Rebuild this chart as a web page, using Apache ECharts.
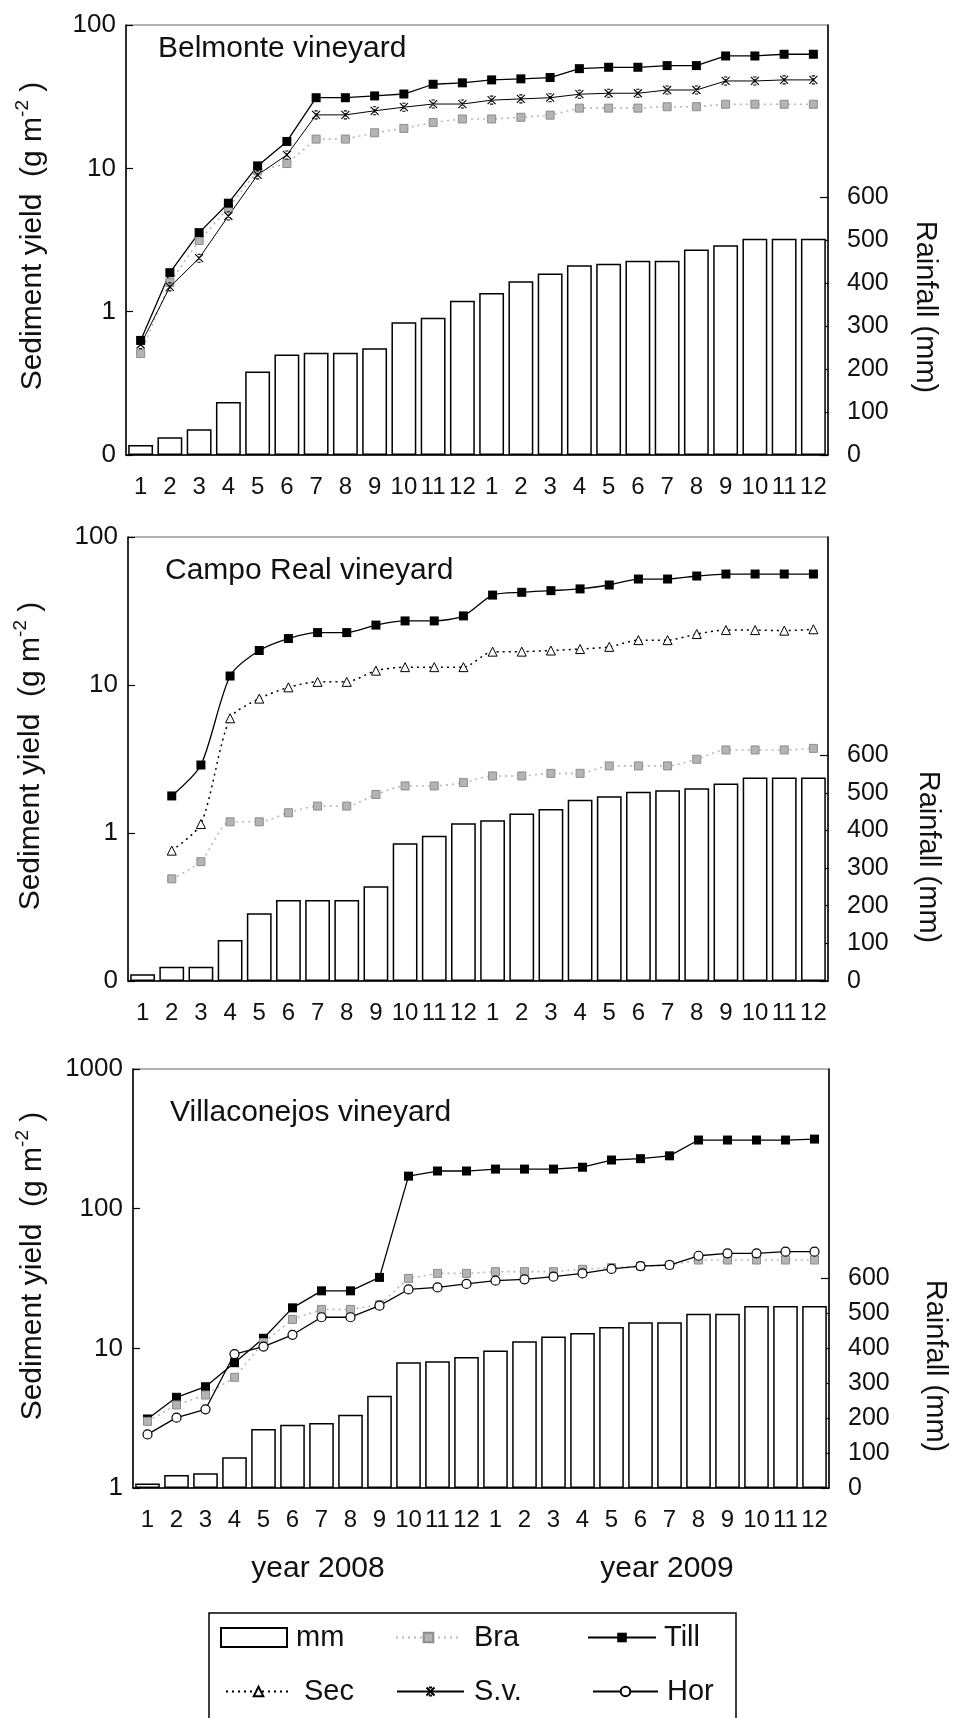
<!DOCTYPE html>
<html>
<head>
<meta charset="utf-8">
<script src="https://cdn.jsdelivr.net/npm/echarts@6.0.0/dist/echarts.min.js"></script>
<style>
html,body{margin:0;padding:0;background:#fff;}
#chart{width:954px;height:1718px;}
</style>
</head>
<body>
<div id="chart"></div>
<script>
// ---------- data ----------
const months = ['1','2','3','4','5','6','7','8','9','10','11','12'];
const years = ['2008','2009'];
const categories = [];
years.forEach(function (y) { months.forEach(function (m) { categories.push(m + '/' + y); }); });

const siteNames = ['Belmonte vineyard', 'Campo Real vineyard', 'Villaconejos vineyard'];

// Belmonte
const belmonteRain = [23,41,60,123,194,234,238,238,248,309,319,359,377,404,422,441,445,452,452,478,488,503,503,503];
const belmonteBra  = [0.51,1.6,3.13,5.3,9.6,10.8,16.0,16.0,17.7,19.0,20.9,22.1,22.1,22.7,23.5,26.3,26.3,26.3,26.9,26.9,28.0,28.0,28.0,28.0];
const belmonteSv   = [0.59,1.49,2.36,4.65,9.0,12.4,23.6,23.6,25.2,26.7,28.1,28.1,29.9,30.5,31.1,32.9,33.4,33.4,35.2,35.2,40.7,40.7,41.4,41.4];
const belmonteTill = [0.63,1.87,3.56,5.71,10.4,15.4,31.1,31.1,32.0,33.0,38.6,39.5,41.4,42.1,43.0,49.6,50.7,50.7,52.1,52.1,60.8,60.8,62.5,62.5];

// Campo Real
const campoRain = [18,38,38,109,180,215,215,215,252,366,386,419,427,445,457,482,491,503,507,512,525,541,541,541];
const campoBra  = [null,0.49,0.64,1.19,1.19,1.37,1.52,1.52,1.82,2.08,2.08,2.19,2.43,2.43,2.53,2.53,2.84,2.84,2.84,3.15,3.64,3.64,3.64,3.73];
const campoSec  = [null,0.76,1.15,5.96,8.09,9.64,10.5,10.5,12.5,13.2,13.2,13.2,16.8,16.8,17.1,17.5,18.1,20.1,20.1,22.1,23.5,23.5,23.3,23.8];
const campoTill = [null,1.78,2.88,11.5,17.1,20.6,22.6,22.6,25.4,27.1,27.1,29.3,40.5,42.3,43.4,44.6,47.4,52.0,52.0,54.5,56.2,56.2,56.2,56.2];

// Villaconejos
const villaRain = [13,37,42,88,169,181,186,210,264,360,363,375,394,420,434,444,461,475,475,499,499,521,521,521];
const villaBra  = [3.0,3.93,4.63,6.2,11.0,16.1,19.0,19.0,20.5,31.7,34.4,34.4,35.4,35.4,35.4,36.8,37.8,38.8,39.5,42.9,42.9,42.9,42.9,42.9];
const villaHor  = [2.42,3.19,3.66,9.1,10.3,12.5,16.7,16.7,20.2,26.4,27.3,28.9,30.5,31.2,32.6,34.4,37.0,38.8,39.5,46.0,47.9,47.9,49.2,49.2];
const villaTill = [3.12,4.46,5.31,7.89,11.8,19.5,25.8,25.8,32.2,171,186,186,192,192,192,198,223,228,239,310,310,310,310,315];

// tick values
const logTicksA = [0.1, 1, 10, 100];
const logTicksB = [1, 10, 100, 1000];
const rainTicks = [0, 100, 200, 300, 400, 500, 600];

// ---------- styles ----------
const FONT = "'Liberation Sans', Arial, Helvetica, sans-serif";
const TXT = '#111';
const asteriskPath = 'path://M0,0L10,10M10,0L0,10M3,0L7,0M3,10L7,10M5,3L5,7';

const seriesStyle = {
  'Till': { symbol: 'rect', symbolSize: 9,
            lineStyle: { color: '#000', width: 1.3, type: 'solid' },
            itemStyle: { color: '#000', borderColor: '#000', borderWidth: 0 } },
  'Bra':  { symbol: 'rect', symbolSize: 8,
            lineStyle: { color: '#b8b8b8', width: 1.6, type: [2, 4] },
            itemStyle: { color: '#b4b4b4', borderColor: '#8c8c8c', borderWidth: 1 } },
  'Sec':  { symbol: 'triangle', symbolSize: 9,
            lineStyle: { color: '#000', width: 1.5, type: [2, 4] },
            itemStyle: { color: '#fff', borderColor: '#000', borderWidth: 1 } },
  'S.v.': { symbol: asteriskPath, symbolSize: 8,
            lineStyle: { color: '#000', width: 1, type: 'solid' },
            itemStyle: { color: '#000', borderColor: '#000', borderWidth: 1.1 } },
  'Hor':  { symbol: 'circle', symbolSize: 9,
            lineStyle: { color: '#000', width: 1.3, type: 'solid' },
            itemStyle: { color: '#fff', borderColor: '#000', borderWidth: 1.2 } }
};

const panels = [
  { rain: belmonteRain, lines: [['Bra', belmonteBra], ['S.v.', belmonteSv], ['Till', belmonteTill]],
    logMin: 0.1, logMax: 100, logTicks: logTicksA, rainMax: 1000, smooth: false,
    grid: { left: 126, top: 25, width: 702, height: 430 } },
  { rain: campoRain, lines: [['Bra', campoBra], ['Sec', campoSec], ['Till', campoTill]],
    logMin: 0.1, logMax: 100, logTicks: logTicksA, rainMax: 1180, smooth: 0.25,
    grid: { left: 128, top: 537, width: 700, height: 444 } },
  { rain: villaRain, lines: [['Till', villaTill], ['Bra', villaBra], ['Hor', villaHor]],
    logMin: 1, logMax: 1000, logTicks: logTicksB, rainMax: 1200, smooth: false,
    grid: { left: 133, top: 1069, width: 696, height: 419 } }
];

const grids = [], xAxes = [], yAxes = [], series = [];
panels.forEach(function (p, i) {
  grids.push(Object.assign({ show: true, borderColor: '#666', borderWidth: 1, containLabel: false, outerBoundsMode: 'none' }, p.grid));
  xAxes.push({
    type: 'category', gridIndex: i, data: categories, boundaryGap: true,
    axisLine: { show: true, lineStyle: { color: '#000', width: 1.5 } },
    axisTick: { show: false },
    splitLine: { show: false },
    axisLabel: { interval: 0, hideOverlap: false, margin: 20, fontSize: 24, fontFamily: FONT, color: TXT,
                 formatter: function (v) { return v.split('/')[0]; } }
  });
  yAxes.push({
    type: 'log', logBase: 10, gridIndex: i, position: 'left', min: p.logMin, max: p.logMax,
    axisLine: { show: true, lineStyle: { color: '#000', width: 1.5 } },
    axisTick: { show: true, inside: true, length: 7, customValues: p.logTicks, lineStyle: { color: '#000', width: 1.2 } },
    splitLine: { show: false }, minorTick: { show: false },
    axisLabel: { customValues: p.logTicks, margin: 10, fontSize: 26, fontFamily: FONT, color: TXT,
                 formatter: function (v) { return v < 0.99 ? '0' : String(Math.round(v)); } }
  });
  yAxes.push({
    type: 'value', gridIndex: i, position: 'right', min: 0, max: p.rainMax,
    axisLine: { show: true, lineStyle: { color: '#000', width: 1.5 } },
    axisTick: { show: true, inside: true, length: 8, customValues: rainTicks, lineStyle: { color: '#000', width: 1.2 } },
    splitLine: { show: false },
    axisLabel: { customValues: rainTicks, margin: 19, fontSize: 25, fontFamily: FONT, color: TXT }
  });
  series.push({
    name: 'mm', type: 'bar', xAxisIndex: i, yAxisIndex: 2 * i + 1, data: p.rain,
    barCategoryGap: '15%',
    itemStyle: { color: '#fff', borderColor: '#000', borderWidth: 1.5 },
    emphasis: { disabled: true }
  });
  p.lines.forEach(function (l) {
    const s = seriesStyle[l[0]];
    series.push({
      name: l[0], type: 'line', xAxisIndex: i, yAxisIndex: 2 * i, data: l[1],
      symbol: s.symbol, symbolSize: s.symbolSize, showSymbol: true, showAllSymbol: true,
      smooth: p.smooth, connectNulls: false,
      lineStyle: s.lineStyle, itemStyle: s.itemStyle,
      emphasis: { disabled: true }, z: 3
    });
  });
});

const legendText = { fontSize: 29, fontFamily: FONT, color: TXT };
function leg(name, left, top, w, h, pad, icon) {
  const item = icon ? { name: name, icon: icon } : { name: name };
  return { data: [item], left: left, top: top, itemWidth: w, itemHeight: h, padding: 0,
           selectedMode: false, textStyle: Object.assign({ padding: [0, 0, 0, pad] }, legendText) };
}

function vText(txt, x, y, rot, size, rich) {
  return { type: 'text', x: x, y: y, rotation: rot, silent: true,
           style: { text: txt, fill: TXT, fontSize: size, fontFamily: FONT,
                    align: 'center', verticalAlign: 'middle', textAlign: 'center', textVerticalAlign: 'middle',
                    rich: rich } };
}
const sedRich = {
  a: { fontSize: 30, fontFamily: FONT, color: TXT, lineHeight: 40 },
  b: { fontSize: 19, fontFamily: FONT, color: TXT, lineHeight: 19, verticalAlign: 'top' }
};
const sedLabel = '{a|Sediment yield  (g m}{b|-2}{a| )}';

const titlePos = [[158, 49], [165, 571], [170, 1113]];
const leftTitlePos = [[33, 236], [31, 756], [33, 1266]];
const rightTitlePos = [[925, 307], [928, 857], [935, 1366]];

const graphics = [];
siteNames.forEach(function (n, i) {
  graphics.push({ type: 'text', x: titlePos[i][0], y: titlePos[i][1], silent: true,
    style: { text: n, fill: TXT, fontSize: 30, fontFamily: FONT, align: 'left', verticalAlign: 'middle',
             textAlign: 'left', textVerticalAlign: 'middle' } });
  graphics.push(vText(sedLabel, leftTitlePos[i][0], leftTitlePos[i][1], Math.PI / 2, 30, sedRich));
  graphics.push(vText('Rainfall (mm)', rightTitlePos[i][0], rightTitlePos[i][1], -Math.PI / 2, 29));
});
graphics.push(vText('year ' + years[0], 318, 1569, 0, 30));
graphics.push(vText('year ' + years[1], 667, 1569, 0, 30));
graphics.push({ type: 'rect', silent: true, shape: { x: 209, y: 1613, width: 527, height: 140 },
                style: { fill: 'none', stroke: '#000', lineWidth: 1.5 } });

const option = {
  animation: false,
  backgroundColor: '#fff',
  grid: grids, xAxis: xAxes, yAxis: yAxes, series: series,
  legend: [
    leg('mm',   220, 1623, 66, 19, 4, 'rect'),
    leg('Bra',  395, 1623, 65, 12, 8),
    leg('Till', 587, 1623, 68, 12, 3),
    leg('Sec',  225, 1677, 65, 12, 8),
    leg('S.v.', 396, 1677, 67, 10, 5),
    leg('Hor',  592, 1677, 65, 12, 4)
  ],
  graphic: graphics
};

const chart = echarts.init(document.getElementById('chart'), null, { renderer: 'canvas' });
chart.setOption(option);
</script>
</body>
</html>
